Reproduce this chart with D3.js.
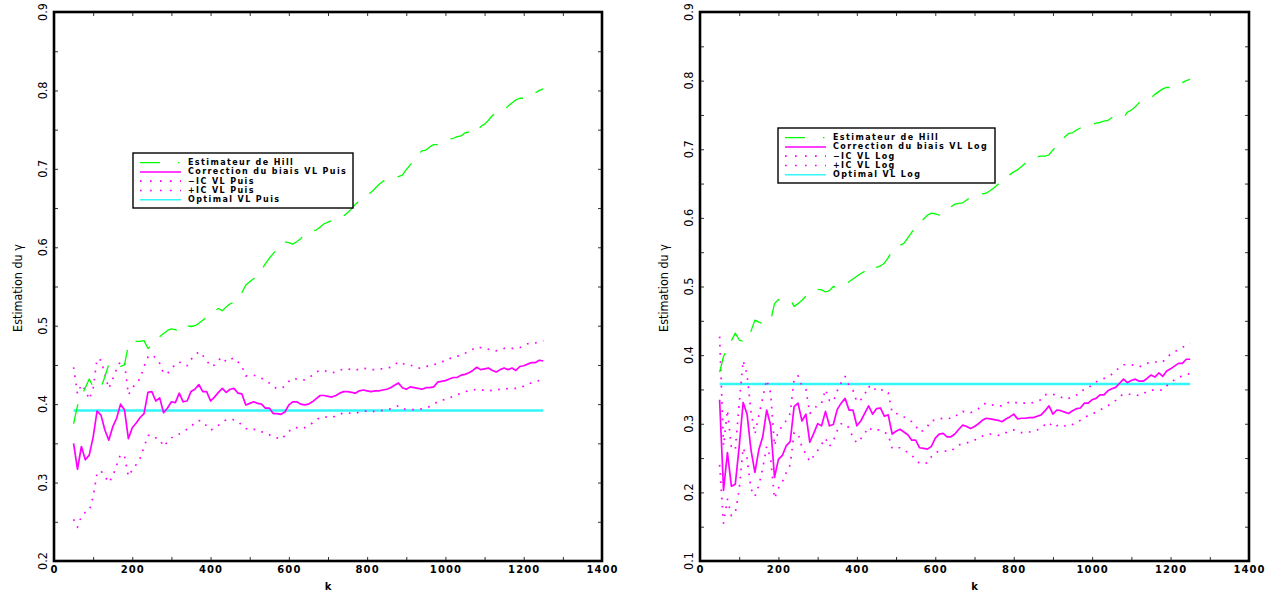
<!DOCTYPE html>
<html><head><meta charset="utf-8">
<script src="https://cdn.jsdelivr.net/npm/d3@7"></script>
<style>body{margin:0;background:#fff}svg{display:block}</style>
</head><body>
<svg id="chart" width="1280" height="594"></svg>
<script>
// ---------- DATA ----------
const kValues = [50,60,70,80,90,100,110,120,130,140,150,160,170,180,190,200,210,220,230,240,250,260,270,280,290,300,
310,320,330,340,350,360,370,380,390,400,410,420,430,440,450,460,470,480,490,500,510,520,530,540,550,560,570,580,590,600,
610,620,630,640,650,660,670,680,690,700,710,720,730,740,750,760,770,780,790,800,810,820,830,840,850,860,870,880,890,900,
910,920,930,940,950,960,970,980,990,1000,1010,1020,1030,1040,1050,1060,1070,1080,1090,1100,1110,1120,1130,1140,1150,1160,
1170,1180,1190,1200,1210,1220,1230,1240,1250];

const hillEstimator = [0.375,0.398,0.410,0.421,0.432,0.422,0.420,0.421,0.435,0.451,0.448,0.446,0.448,0.450,0.475,0.481,0.480,0.480,0.481,0.471,
0.475,0.480,0.486,0.490,0.494,0.496,0.495,0.492,0.494,0.500,0.499,0.500,0.503,0.507,0.511,0.515,0.519,0.522,0.519,0.524,
0.528,0.530,0.534,0.542,0.552,0.556,0.560,0.563,0.571,0.579,0.586,0.592,0.598,0.604,0.607,0.606,0.604,0.607,0.611,0.616,
0.620,0.621,0.622,0.626,0.630,0.632,0.634,0.635,0.636,0.640,0.644,0.649,0.655,0.659,0.663,0.667,0.670,0.675,0.680,0.684,
0.687,0.689,0.690,0.690,0.692,0.699,0.705,0.711,0.718,0.723,0.724,0.728,0.731,0.731,0.733,0.736,0.738,0.739,0.741,0.742,
0.746,0.747,0.745,0.746,0.754,0.757,0.762,0.768,0.771,0.774,0.775,0.780,0.784,0.788,0.790,0.790,0.791,0.793,0.797,0.800,0.802];

const correctionPuis = [0.350,0.317,0.346,0.329,0.335,0.358,0.391,0.386,0.367,0.354,0.371,0.382,0.400,0.393,0.356,0.370,0.376,0.383,0.388,0.415,
0.416,0.404,0.408,0.389,0.395,0.403,0.402,0.414,0.403,0.404,0.416,0.419,0.425,0.416,0.416,0.404,0.409,0.415,0.420,0.415,
0.419,0.420,0.414,0.413,0.399,0.401,0.403,0.401,0.400,0.395,0.395,0.388,0.388,0.387,0.390,0.399,0.403,0.403,0.400,0.399,
0.400,0.403,0.407,0.411,0.411,0.410,0.409,0.411,0.414,0.416,0.416,0.415,0.414,0.417,0.418,0.417,0.416,0.417,0.417,0.418,
0.419,0.421,0.424,0.427,0.421,0.419,0.422,0.421,0.420,0.419,0.421,0.421,0.422,0.428,0.429,0.430,0.432,0.434,0.434,0.437,
0.438,0.440,0.443,0.447,0.444,0.445,0.446,0.443,0.441,0.444,0.446,0.444,0.446,0.443,0.448,0.449,0.451,0.453,0.453,0.456,0.455];

const upperICPuis = [0.447,0.413,0.425,0.418,0.406,0.420,0.458,0.456,0.438,0.420,0.432,0.445,0.455,0.453,0.412,0.420,0.428,0.432,0.448,0.460,
0.463,0.459,0.452,0.439,0.439,0.446,0.450,0.454,0.450,0.449,0.457,0.462,0.467,0.462,0.456,0.448,0.450,0.456,0.460,0.454,
0.457,0.459,0.454,0.448,0.436,0.436,0.437,0.435,0.433,0.430,0.427,0.422,0.420,0.420,0.423,0.429,0.433,0.432,0.431,0.431,
0.433,0.437,0.441,0.443,0.443,0.441,0.440,0.441,0.443,0.445,0.445,0.444,0.443,0.445,0.446,0.445,0.444,0.444,0.445,0.445,
0.446,0.447,0.450,0.454,0.452,0.450,0.450,0.448,0.446,0.446,0.448,0.449,0.450,0.452,0.454,0.455,0.458,0.460,0.461,0.463,
0.465,0.467,0.470,0.473,0.472,0.471,0.470,0.468,0.468,0.470,0.471,0.471,0.471,0.471,0.472,0.475,0.477,0.478,0.478,0.480,0.481];

const lowerICPuis = [0.253,0.243,0.257,0.262,0.264,0.282,0.312,0.315,0.308,0.300,0.308,0.322,0.336,0.334,0.308,0.316,0.323,0.331,0.345,0.360,
0.361,0.357,0.355,0.346,0.352,0.357,0.360,0.362,0.365,0.368,0.371,0.377,0.379,0.378,0.372,0.367,0.369,0.373,0.377,0.380,
0.381,0.380,0.378,0.373,0.369,0.367,0.368,0.367,0.365,0.363,0.361,0.358,0.357,0.355,0.360,0.365,0.370,0.370,0.369,0.370,
0.372,0.376,0.380,0.383,0.384,0.383,0.383,0.385,0.387,0.389,0.389,0.388,0.388,0.390,0.391,0.391,0.390,0.391,0.391,0.392,
0.393,0.394,0.396,0.398,0.395,0.393,0.393,0.393,0.393,0.394,0.395,0.397,0.400,0.403,0.405,0.406,0.408,0.410,0.412,0.414,
0.416,0.417,0.418,0.419,0.418,0.418,0.418,0.417,0.418,0.419,0.419,0.420,0.420,0.420,0.421,0.423,0.426,0.427,0.429,0.430,0.430];

const optimalPuis = 0.392;

const correctionLog = [0.335,0.203,0.258,0.209,0.212,0.267,0.331,0.314,0.262,0.229,0.262,0.281,0.320,0.298,0.222,0.248,0.254,0.268,0.274,0.325,
0.330,0.304,0.314,0.273,0.286,0.300,0.297,0.318,0.297,0.299,0.321,0.330,0.337,0.320,0.320,0.297,0.304,0.315,0.326,0.314,
0.322,0.323,0.311,0.313,0.285,0.289,0.292,0.288,0.284,0.276,0.276,0.265,0.264,0.263,0.267,0.279,0.285,0.286,0.281,0.281,
0.285,0.292,0.298,0.296,0.293,0.296,0.300,0.305,0.308,0.307,0.306,0.305,0.303,0.307,0.310,0.314,0.307,0.308,0.308,0.309,
0.309,0.311,0.313,0.319,0.326,0.314,0.320,0.319,0.317,0.315,0.319,0.322,0.323,0.330,0.330,0.335,0.337,0.342,0.342,0.348,
0.351,0.353,0.359,0.365,0.360,0.363,0.365,0.362,0.362,0.366,0.371,0.368,0.374,0.369,0.377,0.380,0.384,0.388,0.388,0.394,0.394];

const upperICLog = [0.427,0.268,0.320,0.265,0.262,0.330,0.392,0.372,0.318,0.285,0.312,0.338,0.364,0.345,0.268,0.290,0.296,0.305,0.315,0.365,
0.370,0.355,0.350,0.315,0.320,0.328,0.330,0.350,0.334,0.332,0.348,0.360,0.369,0.356,0.349,0.332,0.335,0.343,0.355,0.348,
0.352,0.352,0.345,0.345,0.316,0.315,0.313,0.310,0.306,0.303,0.297,0.288,0.290,0.296,0.305,0.305,0.307,0.308,0.308,0.308,
0.309,0.316,0.318,0.316,0.316,0.319,0.322,0.328,0.330,0.328,0.327,0.326,0.326,0.329,0.332,0.332,0.330,0.330,0.330,0.330,
0.331,0.333,0.335,0.342,0.344,0.343,0.341,0.339,0.336,0.337,0.339,0.342,0.344,0.351,0.353,0.356,0.361,0.364,0.366,0.369,
0.372,0.377,0.382,0.386,0.386,0.386,0.385,0.383,0.385,0.388,0.390,0.390,0.390,0.390,0.397,0.401,0.405,0.408,0.411,0.415,0.417];

const lowerICLog = [0.240,0.155,0.190,0.166,0.170,0.205,0.265,0.250,0.205,0.194,0.210,0.235,0.267,0.250,0.191,0.206,0.215,0.229,0.240,0.287,
0.286,0.266,0.256,0.245,0.253,0.261,0.270,0.279,0.267,0.275,0.290,0.300,0.300,0.294,0.280,0.272,0.278,0.286,0.295,0.290,
0.291,0.291,0.288,0.284,0.264,0.265,0.265,0.262,0.258,0.254,0.248,0.242,0.242,0.243,0.252,0.258,0.260,0.260,0.260,0.260,
0.265,0.269,0.271,0.272,0.274,0.276,0.280,0.282,0.284,0.285,0.284,0.283,0.284,0.287,0.289,0.291,0.289,0.287,0.288,0.288,
0.290,0.291,0.293,0.299,0.302,0.295,0.297,0.299,0.297,0.296,0.299,0.302,0.305,0.309,0.312,0.314,0.317,0.320,0.323,0.326,
0.330,0.334,0.340,0.343,0.343,0.343,0.342,0.341,0.344,0.347,0.349,0.349,0.349,0.349,0.355,0.360,0.364,0.367,0.370,0.372,0.373];

const optimalLog = 0.358;

const xTickLabels = [0,200,400,600,800,1000,1200,1400];
const yTickLabelsPuis = [0.2,0.3,0.4,0.5,0.6,0.7,0.8,0.9];
const yTickLabelsLog = [0.1,0.2,0.3,0.4,0.5,0.6,0.7,0.8,0.9];
const legendPuis = ["Estimateur de Hill","Correction du biais VL Puis","\u2212IC VL Puis","+IC VL Puis","Optimal VL Puis"];
const legendLog = ["Estimateur de Hill","Correction du biais VL Log","\u2212IC VL Log","+IC VL Log","Optimal VL Log"];
const xTitle = "k";
const yTitle = "Estimation du \u03b3";

// ---------- DRAW ----------
const svg = d3.select("#chart");
svg.append("rect").attr("width",1280).attr("height",594).attr("fill","#fff");

const NARROW = "'Liberation Sans Narrow','DejaVu Sans Condensed','Roboto Condensed',sans-serif";
const WIDE = "'DejaVu Sans',Verdana,sans-serif";
const styles = {
  hill:{stroke:"#00ff00", width:1.3, dash:"20,14"},
  corr:{stroke:"#ff00ff", width:1.7, dash:null},
  ci:{stroke:"#ff00ff", width:1.7, dash:"1.7,6.5"},
  opt:{stroke:"#33f6f6", width:2.5, dash:null}
};

function drawPanel(cfg){
  const top = 12, bottom = 561;
  const g = svg.append("g");
  const x = d3.scaleLinear().domain([0,1400]).range([cfg.left, cfg.right]);
  const y = d3.scaleLinear().domain(cfg.yDomain).range([bottom, top]);

  const line = d3.line().x((d,i)=>x(kValues[i])).y(d=>y(d));
  const addPath = (vals, st) => {
    const p = g.append("path").attr("d", line(vals)).attr("fill","none")
      .attr("stroke", st.stroke).attr("stroke-width", st.width).attr("stroke-linejoin","round");
    if (st.dash) p.attr("stroke-dasharray", st.dash);
  };
  g.append("line").attr("x1", x(kValues[0])).attr("x2", x(kValues[kValues.length-1]))
    .attr("y1", y(cfg.optimal)).attr("y2", y(cfg.optimal))
    .attr("stroke", styles.opt.stroke).attr("stroke-width", styles.opt.width);
  addPath(cfg.lower, styles.ci);
  addPath(cfg.upper, styles.ci);
  addPath(cfg.corr, styles.corr);
  addPath(hillEstimator, styles.hill);

  const xt = d3.range(0, 1401, 100);
  const yt = d3.range(Math.round(cfg.yDomain[0]*100), Math.round(cfg.yDomain[1]*100)+1, 5).map(v=>v/100);
  const axB = g.append("g").attr("transform",`translate(0,${bottom})`)
    .call(d3.axisBottom(x).tickValues(xt).tickSize(-4).tickPadding(5)
      .tickFormat(d => xTickLabels.includes(d) ? d : ""));
  axB.select(".domain").remove();
  axB.selectAll("text").attr("font-family", WIDE).attr("font-weight","bold")
    .attr("font-size", 10).attr("letter-spacing", "1.1px").attr("fill","#000");
  axB.selectAll("line").attr("stroke","#333").attr("stroke-width",1);

  const axT = g.append("g").attr("transform",`translate(0,${top})`)
    .call(d3.axisTop(x).tickValues(xt).tickSize(-4).tickFormat(""));
  axT.select(".domain").remove();
  axT.selectAll("line").attr("stroke","#333");

  const axL = g.append("g").attr("transform",`translate(${cfg.left},0)`)
    .call(d3.axisLeft(y).tickValues(yt).tickSize(-4).tickFormat(""));
  axL.select(".domain").remove();
  axL.selectAll("line").attr("stroke","#333");
  const axR = g.append("g").attr("transform",`translate(${cfg.right},0)`)
    .call(d3.axisRight(y).tickValues(yt).tickSize(-4).tickFormat(""));
  axR.select(".domain").remove();
  axR.selectAll("line").attr("stroke","#333");

  g.selectAll("text.ylab").data(cfg.yLabels).enter().append("text")
    .attr("class","ylab")
    .attr("transform", d => `translate(${cfg.left-12},${y(d)}) rotate(-90)`)
    .attr("text-anchor","middle").attr("dominant-baseline","central")
    .attr("font-family", NARROW).attr("font-size", 12.5).attr("fill","#000")
    .text(d => d.toFixed(1));

  g.append("rect").attr("x", cfg.left).attr("y", top)
    .attr("width", cfg.right-cfg.left).attr("height", bottom-top)
    .attr("fill","none").attr("stroke","#000").attr("stroke-width",2.6);

  g.append("text").attr("x", (cfg.left+cfg.right)/2).attr("y", 590)
    .attr("text-anchor","middle").attr("font-family", WIDE).attr("font-weight","bold")
    .attr("font-size", 10).text(xTitle);
  g.append("text").attr("transform", `translate(${cfg.left-37},288) rotate(-90)`)
    .attr("text-anchor","middle").attr("dominant-baseline","central")
    .attr("font-family", NARROW).attr("font-size", 12.5).text(yTitle);

  const L = cfg.legend;
  const lg = g.append("g");
  lg.append("rect").attr("x", L.x).attr("y", L.y).attr("width", L.w).attr("height", L.h)
    .attr("fill","#fff").attr("stroke","#000").attr("stroke-width",1.4);
  const legStyles = [
    {stroke:"#00ff00", width:1.3, dash:"20,18,1.5,30"},
    {stroke:"#ff00ff", width:1.5, dash:null},
    {stroke:"#ff00ff", width:1.7, dash:"1.7,8.3"},
    {stroke:"#ff00ff", width:1.7, dash:"1.7,8.3"},
    {stroke:"#33f6f6", width:1.5, dash:null}
  ];
  cfg.legendLabels.forEach((lab, i) => {
    const yy = L.y + 9.6 + i*9.3;
    const ln = lg.append("line").attr("x1", L.x+7).attr("x2", L.x+48).attr("y1", yy).attr("y2", yy)
      .attr("stroke", legStyles[i].stroke).attr("stroke-width", legStyles[i].width);
    if (legStyles[i].dash) ln.attr("stroke-dasharray", legStyles[i].dash);
    lg.append("text").attr("x", L.x+55).attr("y", yy).attr("dominant-baseline","central")
      .attr("font-family", WIDE).attr("font-weight","bold").attr("font-size", 8)
      .attr("letter-spacing","1.4px").attr("fill","#000").text(lab);
  });
}

drawPanel({left:54, right:602, yDomain:[0.2,0.9], yLabels:yTickLabelsPuis,
  corr:correctionPuis, upper:upperICPuis, lower:lowerICPuis, optimal:optimalPuis,
  legendLabels:legendPuis, legend:{x:133, y:153, w:220, h:55}});
drawPanel({left:700, right:1249, yDomain:[0.1,0.9], yLabels:yTickLabelsLog,
  corr:correctionLog, upper:upperICLog, lower:lowerICLog, optimal:optimalLog,
  legendLabels:legendLog, legend:{x:778, y:128, w:217, h:55}});
</script>
</body></html>
